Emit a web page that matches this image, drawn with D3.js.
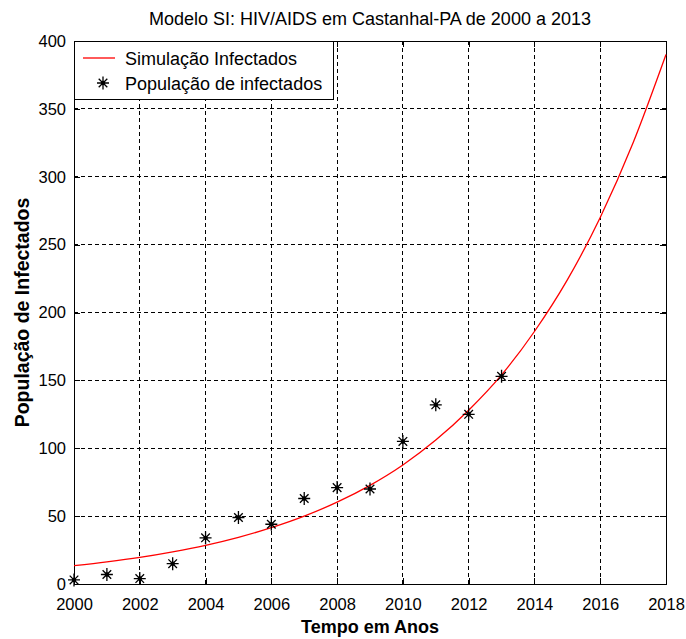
<!DOCTYPE html>
<html>

<head>
    <meta charset="utf-8">
    <title>Modelo SI</title>
    <script src="https://d3js.org/d3.v7.min.js"></script>
    <style>
        body { margin: 0; background: #fff; overflow: hidden; }
        svg { display: block; }
        text { font-family: "Liberation Sans", Arial, sans-serif; font-size: 18px; fill: #000; }
        .tick text { font-size: 16.5px; }
        .bold { font-weight: bold; font-size: 18px; }
    </style>
</head>

<body>
    <svg width="686" height="639"></svg>
    <script>
        // dados observados
        const anos = [2000, 2001, 2002, 2003, 2004, 2005, 2006, 2007, 2008, 2009, 2010, 2011, 2012, 2013]
        const infectados = [3, 7, 4, 15, 34, 49, 44, 63, 71, 70, 105, 132, 125, 153]

        // curva simulada
        const anosSim = [2000, 2001, 2002, 2003, 2004, 2005, 2006, 2007, 2008, 2009,
            2010, 2011, 2012, 2013, 2014, 2015, 2016, 2017, 2018]
        const simulacao = [13.5, 16.3, 19.6, 23.7, 28.5, 34.4, 41.5, 50, 60.3, 72.7,
            87.7, 106, 128, 154, 186, 224, 270, 325, 390]

        const xTicks = [2000, 2002, 2004, 2006, 2008, 2010, 2012, 2014, 2016, 2018]
        const yTicks = [0, 50, 100, 150, 200, 250, 300, 350, 400]

        const svg = d3.select("svg")
        const margin = { top: 41, left: 74 }
        const innerWidth = 666 - margin.left
        const innerHeight = 584 - margin.top

        const x = d3.scaleLinear().domain([2000, 2018]).range([0, innerWidth])
        const y = d3.scaleLinear().domain([0, 400]).range([innerHeight, 0])

        const g = svg.append("g")
            .attr("transform", `translate(${margin.left},${margin.top})`)

        // grade tracejada
        const grade = g.append("g")
        grade.selectAll(".gx")
            .data(xTicks.slice(1, -1))
            .join("line")
            .attr("x1", d => x(d)).attr("x2", d => x(d))
            .attr("y1", 0).attr("y2", innerHeight)
        grade.selectAll(".gy")
            .data(yTicks.slice(1, -1))
            .join("line")
            .attr("x1", 0).attr("x2", innerWidth)
            .attr("y1", d => y(d)).attr("y2", d => y(d))
        grade.selectAll("line")
            .attr("stroke", "#000")
            .attr("stroke-width", 1)
            .attr("stroke-dasharray", "4,3")
            .attr("shape-rendering", "crispEdges")

        // eixos com ticks para dentro (todos os lados)
        const tick = 6
        const axB = d3.axisBottom(x).tickValues(xTicks).tickFormat(d3.format("d")).tickSizeInner(-tick).tickSizeOuter(0).tickPadding(14)
        const axL = d3.axisLeft(y).tickValues(yTicks).tickSizeInner(-tick).tickSizeOuter(0).tickPadding(8)
        const axT = d3.axisTop(x).tickValues(xTicks).tickSizeInner(-tick).tickSizeOuter(0)
        const axR = d3.axisRight(y).tickValues(yTicks).tickSizeInner(-tick).tickSizeOuter(0)

        g.append("g").attr("transform", `translate(0,${innerHeight})`).call(axB)
        g.append("g").call(axL)
        g.append("g").attr("class", "semrotulo").call(axT)
        g.append("g").attr("class", "semrotulo").attr("transform", `translate(${innerWidth},0)`).call(axR)
        g.selectAll(".semrotulo text").remove()
        g.selectAll(".domain").remove()
        g.selectAll(".tick line").attr("stroke", "#000").attr("shape-rendering", "crispEdges")
        g.selectAll("g[font-family]").attr("font-family", null).attr("font-size", null)

        g.append("rect")
            .attr("x", 0).attr("y", 0)
            .attr("width", innerWidth).attr("height", innerHeight)
            .attr("fill", "none").attr("stroke", "#000")
            .attr("shape-rendering", "crispEdges")

        // curva simulada
        const linha = d3.line()
            .x((d, i) => x(anosSim[i]))
            .y(d => y(d))
            .curve(d3.curveMonotoneX)
        g.append("path")
            .datum(simulacao)
            .attr("d", linha)
            .attr("fill", "none")
            .attr("stroke", "#ff0000")
            .attr("stroke-width", 1.3)

        // marcador asterisco
        const asterisco = "M-6,0L6,0M0,-6.5L0,6.5M-4.3,-4.3L4.3,4.3M-4.3,4.3L4.3,-4.3"
        g.append("g").selectAll("path")
            .data(infectados)
            .join("path")
            .attr("transform", (d, i) => `translate(${x(anos[i])},${y(d)})`)
            .attr("d", asterisco)
            .attr("stroke", "#000")
            .attr("stroke-width", 1.3)
            .attr("fill", "none")
        g.append("g").selectAll("circle")
            .data(infectados)
            .join("circle")
            .attr("cx", (d, i) => x(anos[i]))
            .attr("cy", d => y(d))
            .attr("r", 2.2)
            .attr("fill", "#000")

        // legenda
        const leg = g.append("g")
        leg.append("rect")
            .attr("x", 0).attr("y", 0).attr("width", 259).attr("height", 58)
            .attr("fill", "#fff").attr("stroke", "#000")
            .attr("shape-rendering", "crispEdges")
        leg.append("line")
            .attr("x1", 9).attr("x2", 41).attr("y1", 17).attr("y2", 17)
            .attr("stroke", "#ff0000").attr("stroke-width", 1.3)
        leg.append("text").attr("x", 51).attr("y", 24).text("Simulação Infectados")
        leg.append("path")
            .attr("transform", "translate(29,42)")
            .attr("d", asterisco)
            .attr("stroke", "#000").attr("stroke-width", 1.3)
        leg.append("circle").attr("cx", 29).attr("cy", 42).attr("r", 2.2).attr("fill", "#000")
        leg.append("text").attr("x", 51).attr("y", 49).text("População de infectados")

        // titulo e rotulos
        svg.append("text")
            .attr("x", margin.left + innerWidth / 2)
            .attr("y", 25)
            .attr("text-anchor", "middle")
            .text("Modelo SI: HIV/AIDS em Castanhal-PA de 2000 a 2013")
        svg.append("text")
            .attr("class", "bold")
            .attr("x", margin.left + innerWidth / 2)
            .attr("y", 633)
            .attr("text-anchor", "middle")
            .text("Tempo em Anos")
        svg.append("text")
            .attr("class", "bold")
            .style("font-size", "19.5px")
            .attr("transform", `translate(29,${margin.top + innerHeight / 2}) rotate(-90)`)
            .attr("text-anchor", "middle")
            .text("População de Infectados")
    </script>
</body>

</html>
